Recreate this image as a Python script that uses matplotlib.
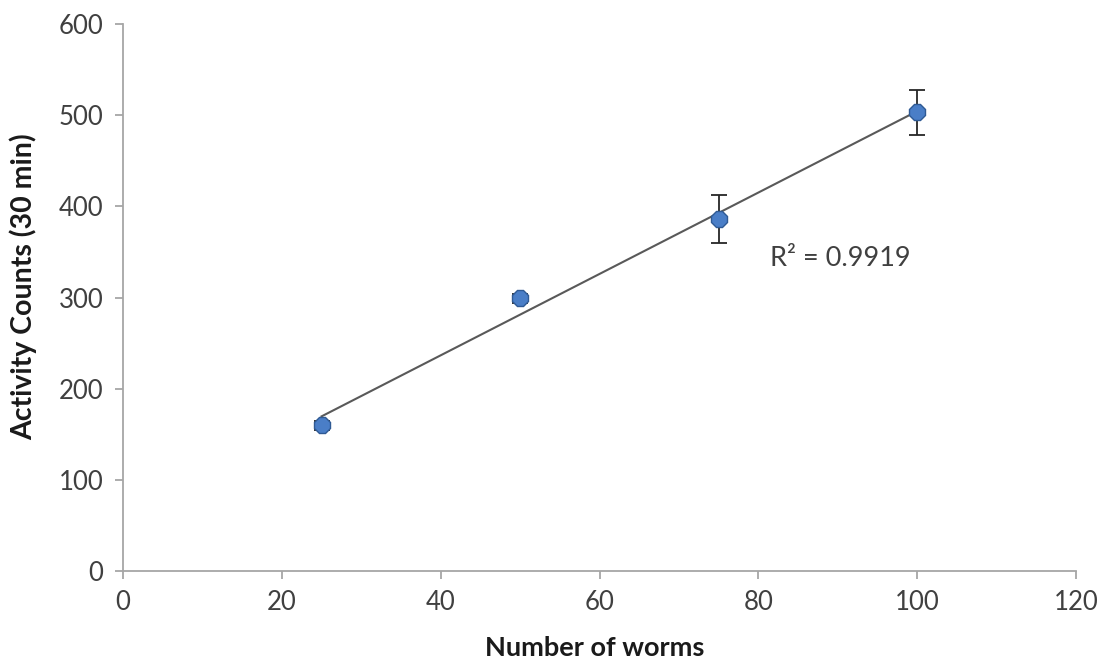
import numpy as np
import matplotlib.pyplot as plt

plt.rcParams['font.family'] = ['Lato', 'DejaVu Sans']

# data
worms = [25, 50, 75, 100]
counts = [160, 299, 386, 503]
errors = [5, 5, 26, 25]
r2_label = "R² = 0.9919"

fig = plt.figure(figsize=(11.1, 6.69), dpi=100)
ax = fig.add_axes([0.1108, 0.1465, 0.8586, 0.8176])

# linear trendline over the data range
slope, intercept = np.polyfit(worms, counts, 1)
xfit = np.array([min(worms), max(worms)])
ax.plot(xfit, slope * xfit + intercept, color='#595959', lw=1.5, zorder=2)

ax.errorbar(worms, counts, yerr=errors, fmt='none', ecolor='#262626',
            elinewidth=1.3, capsize=6, capthick=1.3, zorder=3)
ax.plot(worms, counts, linestyle='none', marker='8', markersize=13,
        markerfacecolor='#4A7EC7', markeredgecolor='#2F5A94',
        markeredgewidth=1.0, zorder=4)

ax.text(81.5, 343, r2_label, fontsize=19.5, color='#404040', va='center', ha='left')

ax.set_xlim(0, 120)
ax.set_ylim(0, 600)
ax.set_xticks(range(0, 121, 20))
ax.set_yticks(range(0, 601, 100))

for s in ['top', 'right']:
    ax.spines[s].set_visible(False)
for s in ['left', 'bottom']:
    ax.spines[s].set_color('#A6A6A6')
    ax.spines[s].set_linewidth(1.3)

ax.tick_params(axis='both', direction='out', length=6, width=1.3,
               color='#A6A6A6', labelsize=18.5, labelcolor='#404040', pad=8)

ax.set_xlabel("Number of worms", fontsize=19.5, fontweight='bold', color='#1a1a1a')
ax.set_ylabel("Activity Counts (30 min)", fontsize=20.5, fontweight='bold', color='#1a1a1a')
ax.xaxis.set_label_coords(0.495, -0.118)
ax.yaxis.set_label_coords(-0.09, 0.52)

fig.savefig("out.png", dpi=100)
